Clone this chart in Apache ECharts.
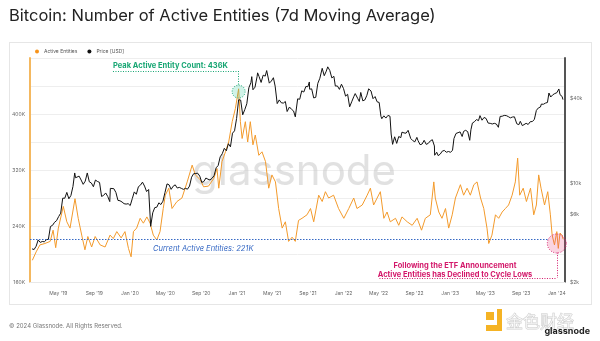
<!DOCTYPE html>
<html><head><meta charset="utf-8">
<script src="https://cdn.jsdelivr.net/npm/echarts@6/dist/echarts.min.js"></script>
<style>
html,body{margin:0;padding:0;background:#fff}
#panel{position:absolute;left:9px;top:42px;width:581px;height:261px;border:1px solid #e6e6e6;background:#fff}
#c{position:absolute;left:0;top:0;width:600px;height:341px}
</style>
</head><body><div id="panel"></div><div id="c"></div>
<script>
// Active entities (7d MA)
const activeEntities = [
['2019-02-01',191000],['2019-02-14',203000],['2019-02-27',213000],['2019-03-16',215000],['2019-04-03',218000],
['2019-04-13',234000],['2019-04-22',209000],['2019-05-01',237000],['2019-05-18',268000],['2019-05-30',246000],
['2019-06-10',237000],['2019-06-27',279000],['2019-07-08',251000],['2019-07-20',227000],['2019-07-31',206000],
['2019-08-10',225000],['2019-08-23',210000],['2019-09-04',225000],['2019-09-21',213000],['2019-10-08',210000],
['2019-10-25',227000],['2019-11-05',222000],['2019-11-17',232000],['2019-12-02',223000],['2019-12-15',232000],
['2019-12-27',208000],['2020-01-05',196000],['2020-01-13',232000],['2020-01-24',237000],['2020-02-05',251000],
['2020-02-16',244000],['2020-02-28',253000],['2020-03-10',244000],['2020-03-21',227000],['2020-04-02',220000],
['2020-04-13',232000],['2020-04-24',265000],['2020-05-01',284000],['2020-05-13',294000],['2020-05-24',265000],
['2020-06-10',275000],['2020-06-27',280000],['2020-07-15',303000],['2020-08-01',327000],['2020-08-12',313000],
['2020-08-29',306000],['2020-09-09',296000],['2020-09-26',297000],['2020-10-14',308000],['2020-10-25',322000],
['2020-10-31',294000],['2020-11-11',332000],['2020-11-23',346000],['2020-12-04',360000],['2020-12-16',389000],
['2020-12-27',408000],['2021-01-07',436000],['2021-01-13',389000],['2021-01-19',365000],['2021-01-30',389000],
['2021-02-07',360000],['2021-02-16',389000],['2021-02-25',356000],['2021-03-05',370000],['2021-03-17',341000],
['2021-03-28',346000],['2021-04-09',332000],['2021-04-20',294000],['2021-05-01',313000],['2021-05-13',303000],
['2021-05-24',265000],['2021-06-05',237000],['2021-06-16',246000],['2021-06-27',218000],['2021-07-09',224000],
['2021-07-20',218000],['2021-07-31',248000],['2021-08-12',251000],['2021-08-29',256000],['2021-09-10',265000],
['2021-09-21',246000],['2021-10-08',284000],['2021-10-20',275000],['2021-10-31',289000],['2021-11-11',280000],
['2021-11-28',284000],['2021-12-15',265000],['2022-01-02',251000],['2022-01-19',265000],['2022-02-05',280000],
['2022-02-16',265000],['2022-03-06',270000],['2022-03-23',284000],['2022-04-03',294000],['2022-04-14',270000],
['2022-04-26',280000],['2022-05-07',289000],['2022-05-19',251000],['2022-05-30',260000],['2022-06-10',246000],
['2022-06-28',251000],['2022-07-09',241000],['2022-07-20',253000],['2022-08-07',246000],['2022-08-24',241000],
['2022-09-10',251000],['2022-09-25',234000],['2022-10-08',251000],['2022-10-25',256000],['2022-11-06',303000],
['2022-11-11',280000],['2022-11-23',260000],['2022-12-04',251000],['2022-12-16',265000],['2022-12-27',237000],
['2023-01-08',256000],['2023-01-19',280000],['2023-02-05',299000],['2023-02-16',284000],['2023-02-28',294000],
['2023-03-11',284000],['2023-03-23',299000],['2023-04-03',303000],['2023-04-15',280000],['2023-04-26',265000],
['2023-05-07',237000],['2023-05-13',215000],['2023-05-24',227000],['2023-06-05',256000],['2023-06-16',251000],
['2023-06-28',260000],['2023-07-09',265000],['2023-07-20',270000],['2023-08-01',284000],['2023-08-12',303000],
['2023-08-20',337000],['2023-08-27',284000],['2023-09-08',294000],['2023-09-19',275000],['2023-10-03',294000],
['2023-10-14',256000],['2023-10-23',270000],['2023-10-31',313000],['2023-11-08',294000],['2023-11-20',270000],
['2023-12-01',289000],['2023-12-10',256000],['2023-12-16',227000],['2023-12-24',213000],['2024-01-01',232000],
['2024-01-06',208000],['2024-01-12',230000],['2024-01-18',227000],['2024-01-23',221000]
];

// Price [USD]
const priceUsd = [
['2019-01-31',3440],['2019-02-07',3400],['2019-02-14',3590],['2019-02-21',3980],['2019-02-28',3820],
['2019-03-07',3880],['2019-03-14',3860],['2019-03-21',3990],['2019-03-28',4030],['2019-04-04',4960],
['2019-04-11',5050],['2019-04-18',5310],['2019-04-25',5460],['2019-05-02',5830],['2019-05-09',6160],
['2019-05-16',7880],['2019-05-23',7870],['2019-05-30',8660],['2019-06-06',7800],['2019-06-13',8230],
['2019-06-20',9530],['2019-06-26',11900],['2019-06-29',11000],['2019-07-04',11200],['2019-07-11',11300],
['2019-07-18',10600],['2019-07-25',9880],['2019-08-01',10400],['2019-08-08',11900],['2019-08-15',10300],
['2019-08-22',10100],['2019-08-29',9500],['2019-09-05',10600],['2019-09-12',10350],['2019-09-19',10200],
['2019-09-26',8100],['2019-10-03',8250],['2019-10-10',8580],['2019-10-17',8100],['2019-10-24',7450],
['2019-10-26',9250],['2019-10-31',9200],['2019-11-07',9200],['2019-11-14',8650],['2019-11-21',7600],
['2019-11-28',7550],['2019-12-05',7400],['2019-12-12',7200],['2019-12-19',7150],['2019-12-26',7200],
['2020-01-02',6980],['2020-01-09',7820],['2020-01-16',8730],['2020-01-23',8400],['2020-01-30',9500],
['2020-02-06',9750],['2020-02-13',10240],['2020-02-20',9600],['2020-02-27',8780],['2020-03-05',9080],
['2020-03-12',4970],['2020-03-19',6200],['2020-03-26',6750],['2020-04-02',6800],['2020-04-09',7300],
['2020-04-16',7100],['2020-04-23',7500],['2020-04-30',8650],['2020-05-07',9950],['2020-05-14',9800],
['2020-05-21',9100],['2020-05-28',9580],['2020-06-04',9800],['2020-06-11',9300],['2020-06-18',9400],
['2020-06-25',9250],['2020-07-02',9100],['2020-07-09',9250],['2020-07-16',9130],['2020-07-23',9600],
['2020-07-30',11100],['2020-08-06',11750],['2020-08-13',11800],['2020-08-20',11850],['2020-08-27',11300],
['2020-09-03',10200],['2020-09-10',10350],['2020-09-17',10950],['2020-09-24',10750],['2020-10-01',10600],
['2020-10-08',10900],['2020-10-15',11400],['2020-10-22',12950],['2020-10-29',13450],['2020-11-05',15500],
['2020-11-12',16300],['2020-11-19',17800],['2020-11-26',17100],['2020-12-03',19200],['2020-12-10',18250],
['2020-12-17',22800],['2020-12-24',23700],['2020-12-31',29000],['2021-01-07',39400],['2021-01-14',39200],
['2021-01-21',30800],['2021-01-28',33500],['2021-02-04',36900],['2021-02-11',47900],['2021-02-18',52100],
['2021-02-21',57500],['2021-02-25',46400],['2021-03-04',48400],['2021-03-11',57300],['2021-03-13',61200],
['2021-03-18',57600],['2021-03-25',52300],['2021-04-01',58900],['2021-04-08',58000],['2021-04-13',63500],
['2021-04-15',63300],['2021-04-22',51700],['2021-04-29',53500],['2021-05-06',56500],['2021-05-12',49200],
['2021-05-19',37000],['2021-05-26',39300],['2021-06-02',37500],['2021-06-09',37300],['2021-06-16',38300],
['2021-06-22',32500],['2021-06-30',35000],['2021-07-07',33700],['2021-07-14',32800],['2021-07-20',29800],
['2021-07-28',40000],['2021-08-04',39700],['2021-08-11',45600],['2021-08-18',44700],['2021-08-25',48900],
['2021-09-01',48800],['2021-09-06',52700],['2021-09-07',46800],['2021-09-14',47100],['2021-09-21',40600],
['2021-09-28',41000],['2021-10-05',51500],['2021-10-12',56000],['2021-10-20',65900],['2021-10-27',58400],
['2021-11-03',62900],['2021-11-08',67500],['2021-11-15',63600],['2021-11-22',56300],['2021-11-29',57800],
['2021-12-04',49300],['2021-12-11',49400],['2021-12-18',46700],['2021-12-25',50800],['2022-01-01',47300],
['2022-01-08',41800],['2022-01-15',43100],['2022-01-22',35100],['2022-01-29',38100],['2022-02-05',41400],
['2022-02-10',43600],['2022-02-19',40100],['2022-02-24',38300],['2022-03-01',44400],['2022-03-08',38700],
['2022-03-15',39300],['2022-03-22',42400],['2022-03-28',47100],['2022-04-05',45500],['2022-04-12',40100],
['2022-04-19',41500],['2022-04-26',38100],['2022-05-03',37700],['2022-05-09',30100],['2022-05-12',28900],
['2022-05-19',30300],['2022-05-26',29200],['2022-06-02',30500],['2022-06-09',30100],['2022-06-13',22500],
['2022-06-18',19000],['2022-06-25',21500],['2022-07-02',19300],['2022-07-09',21600],['2022-07-16',21200],
['2022-07-20',23200],['2022-07-27',22900],['2022-08-03',22800],['2022-08-10',23900],['2022-08-14',24300],
['2022-08-19',20900],['2022-08-26',20200],['2022-09-02',19800],['2022-09-09',21300],['2022-09-13',20200],
['2022-09-20',18900],['2022-09-27',19100],['2022-10-04',20300],['2022-10-11',19000],['2022-10-18',19300],
['2022-10-25',20100],['2022-11-01',20500],['2022-11-08',18500],['2022-11-09',15900],['2022-11-16',16700],
['2022-11-21',15800],['2022-11-28',16200],['2022-12-05',17000],['2022-12-12',17200],['2022-12-19',16700],
['2022-12-26',16900],['2023-01-02',16700],['2023-01-09',17200],['2023-01-14',20900],['2023-01-21',22700],
['2023-01-28',23000],['2023-02-04',23300],['2023-02-11',21600],['2023-02-16',23500],['2023-02-23',23900],
['2023-03-02',23400],['2023-03-09',20300],['2023-03-13',24100],['2023-03-18',26900],['2023-03-25',27500],
['2023-04-01',28500],['2023-04-08',28000],['2023-04-13',30400],['2023-04-20',28200],['2023-04-27',29500],
['2023-05-04',29000],['2023-05-11',26900],['2023-05-18',26800],['2023-05-25',26500],['2023-06-01',26800],
['2023-06-08',26500],['2023-06-15',25100],['2023-06-21',30000],['2023-06-28',30100],['2023-07-05',30500],
['2023-07-12',30400],['2023-07-19',29900],['2023-07-26',29300],['2023-08-02',29700],['2023-08-09',29800],
['2023-08-17',26600],['2023-08-24',26200],['2023-08-29',27700],['2023-09-05',25800],['2023-09-11',25100],
['2023-09-18',26800],['2023-09-25',26300],['2023-10-02',27500],['2023-10-09',27600],['2023-10-16',28500],
['2023-10-23',33100],['2023-10-30',34500],['2023-11-06',35000],['2023-11-09',36700],['2023-11-16',36600],
['2023-11-23',37300],['2023-11-30',37700],['2023-12-05',44000],['2023-12-11',41200],['2023-12-18',42700],
['2023-12-25',43600],['2024-01-01',44200],['2024-01-03',42800],['2024-01-08',47000],['2024-01-11',46600],
['2024-01-12',42800],['2024-01-16',43100],['2024-01-19',41600],['2024-01-22',39500]
];

const leftTicks = [160000, 240000, 320000, 400000];
const rightTicks = [2000, 6000, 10000, 40000];
const xTicks = ['2019-05-01','2019-09-01','2020-01-01','2020-05-01','2020-09-01','2021-01-01','2021-05-01',
  '2021-09-01','2022-01-01','2022-05-01','2022-09-01','2023-01-01','2023-05-01','2023-09-01','2024-01-01'];
const monthNames = ['Jan','Feb','Mar','Apr','May','Jun','Jul','Aug','Sep','Oct','Nov','Dec'];
const peakValue = 436000;
const currentValue = 221000;

const ts = s => new Date(s + 'T00:00:00Z').getTime();
const toXY = arr => arr.map(p => [ts(p[0]), p[1]]);
const chart = echarts.init(document.getElementById('c'), null, {renderer: 'canvas'});
const font = 'Inter, Roboto, "Noto Sans", sans-serif';
const green = '#17a673', blue = '#3568c4', pink = '#d3186a';
const dotted = c => ({color: c, type: [1, 1.5], width: 1});

chart.setOption({
  backgroundColor: 'transparent',
  animation: false,
  textStyle: {fontFamily: font},
  grid: {left: 30, right: 35, top: 58, bottom: 59},
  legend: {
    left: 30, top: 44, itemWidth: 4, itemHeight: 4, itemGap: 10, icon: 'circle',
    textStyle: {fontSize: 5, color: '#555'},
    data: ['Active Entities', 'Price [USD]']
  },
  xAxis: {
    type: 'value', min: ts('2019-01-24'), max: ts('2024-01-29'),
    axisLine: {show: true, lineStyle: {color: '#e8e8e8'}},
    axisTick: {show: false}, splitLine: {show: false},
    axisLabel: {
      customValues: xTicks.map(ts), fontSize: 5, color: '#666', margin: 9,
      formatter: v => { const d = new Date(v); return monthNames[d.getUTCMonth()] + " '" + String(d.getUTCFullYear()).slice(2); }
    }
  },
  yAxis: [{
    type: 'value', min: 160000, max: 480000, interval: 40000, position: 'left',
    axisLine: {show: true, lineStyle: {color: '#f4b860', width: 2}},
    axisTick: {show: false},
    splitLine: {show: true, lineStyle: {color: '#eeeeee', width: 1}},
    axisLabel: {customValues: leftTicks, fontSize: 5, color: '#666', margin: 5,
      formatter: v => (v / 1000) + 'K'}
  }, {
    type: 'log', logBase: 10, min: 2000, max: 78000, position: 'right',
    axisLine: {show: true, lineStyle: {color: '#555', width: 2}},
    axisTick: {show: false}, splitLine: {show: false},
    axisLabel: {customValues: rightTicks, fontSize: 5, color: '#666', margin: 5,
      formatter: v => '$' + Math.round(v / 1000) + 'k'}
  }],
  series: [{
    name: 'Active Entities', type: 'line', yAxisIndex: 0, data: toXY(activeEntities),
    showSymbol: false, symbol: 'none', color: '#f7931a',
    lineStyle: {width: 1, color: '#f39a2b'}, z: 3,
    markLine: {
      silent: true, symbol: 'none', label: {show: false},
      data: [
        [{coord: [ts('2019-01-24'), currentValue], lineStyle: {color: blue, type: [1.5, 1.5], width: 1}},
         {coord: [ts('2023-12-02'), currentValue]}],
        [{coord: [ts('2019-11-04'), 461400], lineStyle: dotted(green)}, {coord: [ts('2021-01-07'), 461400]}],
        [{coord: [ts('2021-01-07'), 461400], lineStyle: dotted(green)}, {coord: [ts('2021-01-07'), 442000]}],
        [{coord: [ts('2024-01-01'), 202000], lineStyle: dotted(pink)}, {coord: [ts('2024-01-01'), 165700]}],
        [{coord: [ts('2022-05-04'), 165700], lineStyle: dotted(pink)}, {coord: [ts('2024-01-01'), 165700]}]
      ]
    },
    markPoint: {
      silent: true, label: {show: false},
      data: [
        {coord: [ts('2021-01-07'), 432000], symbol: 'circle', symbolSize: 13,
         itemStyle: {color: 'rgba(40,200,150,0.22)', borderColor: green, borderWidth: 1, borderType: [1, 1.5]}},
        {coord: [ts('2024-01-01'), 215000], symbol: 'circle', symbolSize: 19,
         itemStyle: {color: 'rgba(230,60,120,0.22)', borderColor: pink, borderWidth: 1, borderType: [1, 1.5]}}
      ]
    }
  }, {
    name: 'Price [USD]', type: 'line', yAxisIndex: 1, data: toXY(priceUsd),
    showSymbol: false, symbol: 'none', color: '#111',
    lineStyle: {width: 1, color: '#111'}, z: 4
  }],
  graphic: [
    {type: 'text', left: 9, top: 8, style: {text: 'Bitcoin: Number of Active Entities (7d Moving Average)',
      fontSize: 16.5, fontFamily: font, fill: '#222'}},
    {type: 'text', z: 1, x: 294, y: 172, style: {text: 'glassnode', fontSize: 42, fontFamily: font,
      fill: 'rgba(200,200,200,0.55)', align: 'center', verticalAlign: 'middle'}},
    {type: 'text', x: 113, y: 66, style: {text: 'Peak Active Entity Count: 436K', fontSize: 7.5, fontWeight: 'bold',
      fontFamily: font, fill: green, verticalAlign: 'middle'}},
    {type: 'text', x: 153, y: 248.5, style: {text: 'Current Active Entities: 221K', fontSize: 7.5, fontStyle: 'italic',
      fontFamily: font, fill: blue, verticalAlign: 'middle'}},
    {type: 'text', x: 455, y: 266, style: {text: 'Following the ETF Announcement', fontSize: 7.5, fontWeight: 'bold',
      fontFamily: font, fill: pink, align: 'center', verticalAlign: 'middle'}},
    {type: 'text', x: 455, y: 274.5, style: {text: 'Active Entities has Declined to Cycle Lows', fontSize: 7.5, fontWeight: 'bold',
      fontFamily: font, fill: pink, align: 'center', verticalAlign: 'middle'}},
    {type: 'text', x: 9, y: 326, style: {text: '© 2024 Glassnode. All Rights Reserved.', fontSize: 6, fontFamily: font,
      fill: '#777', verticalAlign: 'middle'}},
    {type: 'rect', shape: {x: 486, y: 312, width: 8, height: 8}, style: {fill: '#f5b324'}},
    {type: 'polygon', shape: {points: [[497, 309], [502, 309], [502, 331], [486, 331], [486, 325], [497, 325]]}, style: {fill: '#f5b324'}},
    {type: 'text', x: 506, y: 322, style: {text: '金色财经', fontSize: 17, fontFamily: '"Noto Sans CJK SC", sans-serif',
      fill: 'rgba(255,255,255,0.6)', stroke: '#c8c8c8', lineWidth: 0.8, verticalAlign: 'middle'}},
    {type: 'text', x: 590, y: 331, style: {text: 'glassnode', fontSize: 9, fontWeight: 'bold', fontFamily: font,
      fill: '#222', align: 'right', verticalAlign: 'middle'}}
  ]
});
</script>
</body></html>
